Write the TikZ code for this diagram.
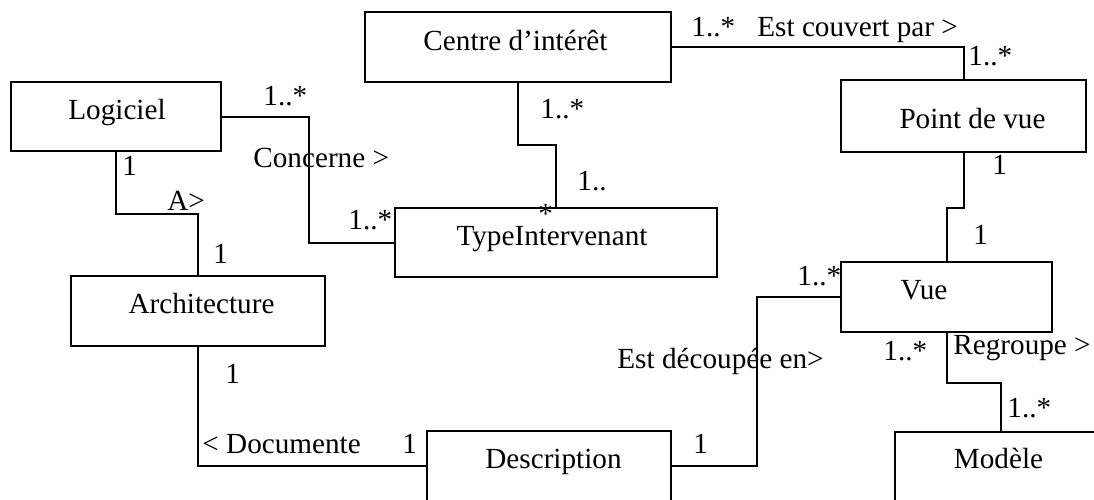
\documentclass[tikz,border=0pt]{standalone}
\usepackage{fontspec}
\setmainfont{Liberation Serif}
\begin{document}
\begin{tikzpicture}[x=0.5pt,y=-0.5pt,
  cls/.style={draw,line width=1pt,inner sep=0pt,rectangle},
  nm/.style={inner sep=0pt,anchor=base,font=\fontsize{14.6}{17}\selectfont},
  lb/.style={inner sep=0pt,anchor=base west,font=\fontsize{14.6}{17}\selectfont},
  conn/.style={line width=1pt}]
\clip (0,0) rectangle (1094,499);
% boxes
\node[cls,minimum width=105pt,minimum height=34.5pt] (log) at (116,116.5) {};
\node[cls,minimum width=153pt,minimum height=35pt] (cen) at (518,47) {};
\node[cls,minimum width=122.5pt,minimum height=36pt] (pdv) at (963.5,116) {};
\node[cls,minimum width=161pt,minimum height=34.5pt] (typ) at (556,242.5) {};
\node[cls,minimum width=127pt,minimum height=35pt] (arc) at (198,311) {};
\node[cls,minimum width=105.5pt,minimum height=35pt] (vue) at (946.5,297) {};
\node[cls,minimum width=122pt,minimum height=35pt] (des) at (549,466) {};
\node[cls,minimum width=106pt,minimum height=35pt] (mod) at (1001,467) {};
% names
\node[nm] (logt) at (117,119) {Logiciel};
\node[nm] (cent) at (515.5,50) {Centre d’intérêt};
\node[nm] (pdvt) at (972.5,128) {Point de vue};
\node[nm] (typt) at (552,245) {TypeIntervenant};
\node[nm] (arct) at (201.5,313) {Architecture};
\node[nm] (vuet) at (924,299) {Vue};
\node[nm] (dest) at (553.5,468) {Description};
\node[nm] (modt) at (998.5,468) {Modèle};
% connectors
\draw[conn] (log.east) -- ++(87,0) |- (typ.west);
\draw[conn] (log.south) -- ++(0,62) -| (arc.north);
\draw[conn] (arc.south) |- (des.west);
\draw[conn] (cen.south) -- ++(0,62) -| (typ.north);
\draw[conn] (cen.east) -| (pdv.north);
\draw[conn] (pdv.south) -- ++(0,55) -| (vue.north);
\draw[conn] (des.east) -- ++(85,0) |- (vue.west);
\draw[conn] (vue.south) -- ++(0,50) -| (mod.north);
% labels
\node[lb] (l1) at (263,105) {1..*};
\node[lb] (l2) at (253,167) {Concerne >};
\node[lb] (l3) at (122,175) {1};
\node[lb] (l4) at (167,210) {A>};
\node[lb] (l5) at (213,263) {1};
\node[lb] (l6) at (348,229) {1..*};
\node[lb] (l7) at (540,118) {1..*};
\node[lb] (l8) at (577,190) {1..};
\node[lb] (l9) at (538,223) {*};
\node[lb] (l10) at (691,36) {1..*};
\node[lb] (l11) at (757,36) {Est couvert par >};
\node[lb] (l12) at (968,65) {1..*};
\node[lb] (l13) at (992,174) {1};
\node[lb] (l14) at (973,244) {1};
\node[lb] (l15) at (797,285) {1..*};
\node[lb] (l16) at (617,368) {Est découpée en>};
\node[lb] (l17) at (883,360) {1..*};
\node[lb] (l18) at (953,354) {Regroupe >};
\node[lb] (l19) at (1007,417) {1..*};
\node[lb] (l20) at (693,453) {1};
\node[lb] (l21) at (202,453) {< Documente};
\node[lb] (l22) at (402,453) {1};
\node[lb] (l23) at (225,383) {1};
\end{tikzpicture}
\end{document}
